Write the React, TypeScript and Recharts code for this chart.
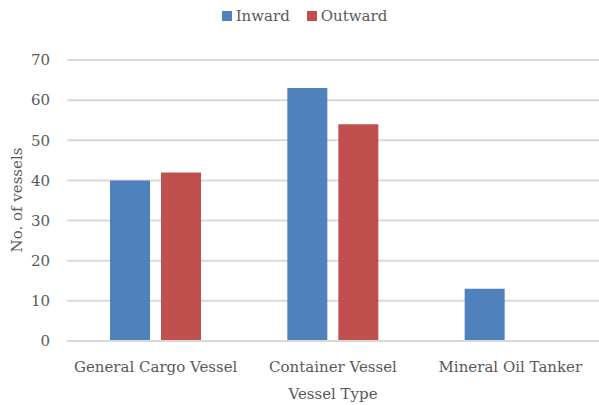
import React from 'react';
import { BarChart, Bar, XAxis, YAxis, CartesianGrid, Legend } from 'recharts';

const vesselTypes = ['General  Cargo Vessel', 'Container Vessel', 'Mineral Oil Tanker'];
const inward = [40, 63, 13];
const outward = [42, 54, 0];
const yTicks = [0, 10, 20, 30, 40, 50, 60, 70];

const BLUE = '#4f81bd';
const RED = '#c0504d';
const TEXT = '#595959';
const GRID = '#d9d9d9';
const FONT = '"DejaVu Serif", serif';

const data = vesselTypes.map((type, i) => ({
    type,
    inward: inward[i],
    outward: outward[i],
}));

const LegendContent = () => {
    const items = [
        { label: 'Inward', color: BLUE },
        { label: 'Outward', color: RED },
    ];
    return (
        <div style={{ display: 'flex', justifyContent: 'center', fontFamily: FONT, fontSize: 15, color: TEXT, height: 18 }}>
            {items.map((it, i) => (
                <div key={it.label} style={{ display: 'flex', alignItems: 'center', marginLeft: i ? 17 : 0 }}>
                    <span style={{ width: 10, height: 10, background: it.color, marginRight: 4, display: 'inline-block' }} />
                    <span>{it.label}</span>
                </div>
            ))}
        </div>
    );
};

const YLabel = () => (
    <text
        transform="translate(17,200) rotate(-90)"
        textAnchor="middle"
        dominantBaseline="central"
        fill={TEXT}
        fontSize={15}
        fontFamily={FONT}
    >
        No. of vessels
    </text>
);

export default function App() {
    return (
        <div style={{ position: 'absolute', left: 0, top: 0, width: 599, height: 405, background: '#fff' }}>
            <BarChart
                width={599}
                height={405}
                data={data}
                margin={{ top: 42, right: 0, bottom: 0, left: 0 }}
                barSize={40}
                barGap={11}
            >
                <CartesianGrid vertical={false} stroke={GRID} strokeWidth={2} />
                <XAxis
                    dataKey="type"
                    height={64}
                    axisLine={{ stroke: GRID, strokeWidth: 2 }}
                    tickLine={false}
                    tickMargin={14}
                    interval={0}
                    tick={{ fill: TEXT, fontSize: 15, fontFamily: FONT }}
                    label={{ value: 'Vessel Type', position: 'insideBottom', offset: 6, fill: TEXT, fontSize: 15, fontFamily: FONT }}
                />
                <YAxis
                    width={67}
                    domain={[0, 70]}
                    ticks={yTicks}
                    axisLine={false}
                    tickLine={false}
                    tickMargin={11}
                    tick={{ fill: TEXT, fontSize: 15, fontFamily: FONT }}
                    label={<YLabel />}
                />
                <Legend verticalAlign="top" wrapperStyle={{ top: 7, left: 5, width: 599 }} content={<LegendContent />} />
                <Bar dataKey="inward" name="Inward" fill={BLUE} isAnimationActive={false} />
                <Bar dataKey="outward" name="Outward" fill={RED} isAnimationActive={false} />
            </BarChart>
        </div>
    );
}
